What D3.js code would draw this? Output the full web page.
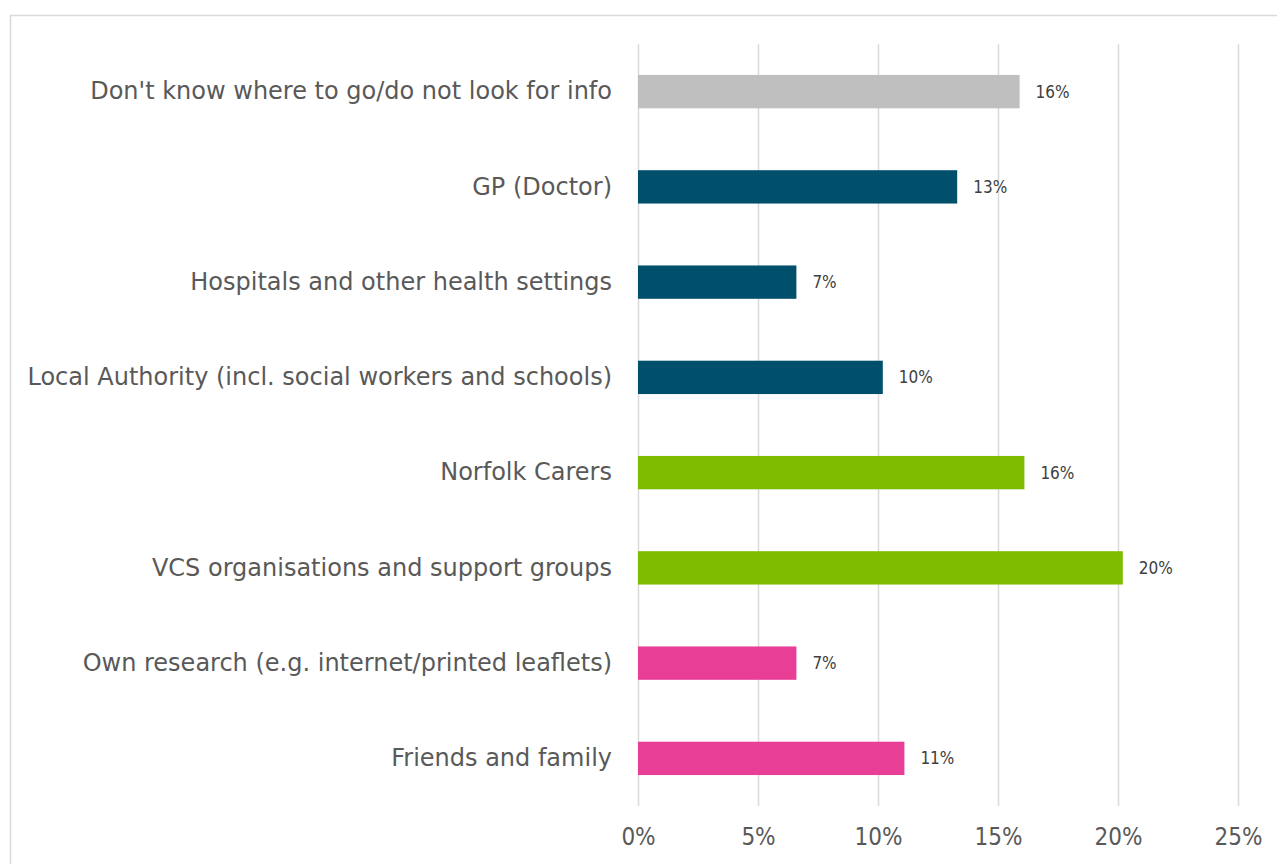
<!DOCTYPE html>
<html>
<head>
<meta charset="utf-8">
<script src="https://cdn.jsdelivr.net/npm/d3@7"></script>
<style>
  html, body { margin: 0; padding: 0; background: #fff; }
  svg { display: block; }
</style>
</head>
<body>
<script>
// Where carers look for information and support
const categories = [
  "Don't know where to go/do not look for info",
  "GP (Doctor)",
  "Hospitals and other health settings",
  "Local Authority (incl. social workers and schools)",
  "Norfolk Carers",
  "VCS organisations and support groups",
  "Own research (e.g. internet/printed leaflets)",
  "Friends and family"
];
const values = [0.159, 0.133, 0.066, 0.102, 0.161, 0.202, 0.066, 0.111];
const groups = ["none", "health", "health", "health", "carers", "carers", "self", "self"];
const tickValues = [0, 0.05, 0.10, 0.15, 0.20, 0.25];

const groupColor = {
  none: "#bfbfbf",
  health: "#004f6b",
  carers: "#7fbc00",
  self: "#e83e96"
};

const W = 1277, H = 864;
const svg = d3.select("body").append("svg").attr("width", W).attr("height", H);

// outer chart frame
svg.append("rect")
  .attr("x", 10.5).attr("y", 15.5)
  .attr("width", 1400).attr("height", 1000)
  .attr("fill", "#fff").attr("stroke", "#d9d9d9").attr("stroke-width", 1.5);

const x = d3.scaleLinear().domain([0, 0.25]).range([638, 1238]);
const y = d3.scaleBand().domain(categories).range([44, 806]).paddingInner(0.65).paddingOuter(0.325);

// vertical gridlines
svg.append("g").selectAll("line").data(tickValues).join("line")
  .attr("x1", d => Math.round(x(d)) + 0.5).attr("x2", d => Math.round(x(d)) + 0.5)
  .attr("y1", 44).attr("y2", 806)
  .attr("stroke", "#d9d9d9").attr("stroke-width", 1.5);

// x axis tick labels
const xAxis = d3.axisBottom(x).tickValues(tickValues).tickFormat(d3.format(".0%")).tickSize(0);
const gx = svg.append("g").attr("transform", "translate(0,825)").call(xAxis);
gx.select(".domain").remove();
gx.selectAll("text")
  .attr("font-family", "'Liberation Sans Narrow', 'DejaVu Sans Condensed', sans-serif")
  .attr("font-size", 24).attr("fill", "#595959");

// category labels
const yAxis = d3.axisLeft(y).tickSize(0).tickPadding(26);
const gy = svg.append("g").attr("transform", "translate(638,0)").call(yAxis);
gy.select(".domain").remove();
gy.selectAll("text")
  .attr("font-family", "'DejaVu Sans', sans-serif")
  .attr("font-size", 24).attr("fill", "#595959");

// bars
svg.append("g").selectAll("rect").data(categories).join("rect")
  .attr("x", x(0))
  .attr("y", d => y(d))
  .attr("width", (d, i) => x(values[i]) - x(0))
  .attr("height", y.bandwidth())
  .attr("fill", (d, i) => groupColor[groups[i]]);

// value labels
svg.append("g").selectAll("text").data(categories).join("text")
  .attr("x", (d, i) => x(values[i]) + 16)
  .attr("y", d => y(d) + y.bandwidth() / 2)
  .attr("dy", "0.35em")
  .attr("font-family", "'DejaVu Sans Condensed', sans-serif")
  .attr("font-size", 17).attr("fill", "#404040")
  .text((d, i) => d3.format(".0%")(values[i]));
</script>
</body>
</html>
